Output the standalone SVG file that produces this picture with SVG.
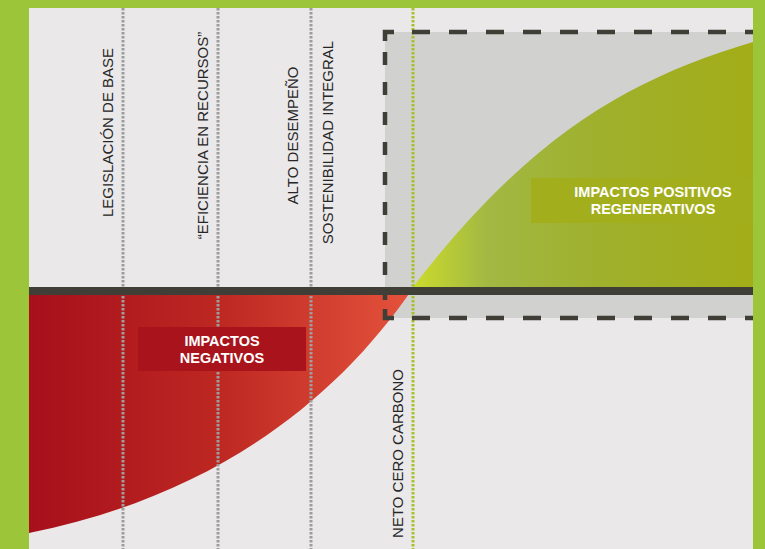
<svg xmlns="http://www.w3.org/2000/svg" width="765" height="549" viewBox="0 0 765 549">
<defs>
<linearGradient id="redGrad" gradientUnits="userSpaceOnUse" x1="29" y1="0" x2="413" y2="0">
<stop offset="0" stop-color="#a70f1b"/>
<stop offset="0.5" stop-color="#bd2822"/>
<stop offset="1" stop-color="#e5533c"/>
</linearGradient>
<linearGradient id="greenGrad" gradientUnits="userSpaceOnUse" x1="413" y1="0" x2="753" y2="0">
<stop offset="0" stop-color="#cbdb2c"/>
<stop offset="0.22" stop-color="#a2b843"/>
<stop offset="0.55" stop-color="#9fb02c"/>
<stop offset="1" stop-color="#a3ad18"/>
</linearGradient>
<style>
.vlab{font-family:"Liberation Sans",Arial,sans-serif;font-size:15px;fill:#262626;text-anchor:middle}
.blab{font-family:"Liberation Sans",Arial,sans-serif;font-size:14.5px;font-weight:bold;fill:#ffffff;text-anchor:middle}
.gdot{stroke:#9d9d9d;stroke-width:3;stroke-dasharray:2.4 1.6;fill:none}
.dash{stroke:#3f3f37;stroke-width:4.5;fill:none}
</style>
</defs>
<rect x="0" y="0" width="765" height="549" fill="#9dc539"/>
<rect x="29" y="8" width="724" height="541" fill="#eae8e9"/>
<g id="zone-regenerative">
<rect x="385" y="32" width="368" height="286" fill="#d1d1cf"/>
</g>
<g id="negative-impacts">
<path d="M29,295 H413 L413,288 C333,405 209,497 29,533 Z" fill="url(#redGrad)"/>
</g>
<g id="positive-impacts">
<path d="M413,287 C533,131 633,78 753,42 V287 Z" fill="url(#greenGrad)"/>
</g>
<g id="connectors">
<line class="gdot" x1="123" y1="8" x2="123" y2="549"/>
<line class="gdot" x1="218" y1="8" x2="218" y2="549"/>
<line class="gdot" x1="311" y1="8" x2="311" y2="549"/>
<line x1="413" y1="8" x2="413" y2="549" stroke="#a6c22e" stroke-width="3" stroke-dasharray="2.4 1.6"/>
<rect x="29" y="287" width="724" height="8" fill="#3f3f37"/>
<path class="dash" d="M385,41 V32 H394"/>
<path class="dash" d="M385,309 V318 H394"/>
<line class="dash" x1="412" y1="32" x2="753" y2="32" stroke-dasharray="18 19"/>
<line class="dash" x1="412" y1="318" x2="753" y2="318" stroke-dasharray="18 19"/>
<line class="dash" x1="385" y1="52" x2="385" y2="300" stroke-dasharray="13 17"/>
</g>
<g id="label-legislacion">
<text class="vlab" transform="translate(113,132.5) rotate(-90)">LEGISLACIÓN DE BASE</text>
</g>
<g id="label-eficiencia">
<text class="vlab" transform="translate(208,135.5) rotate(-90)">“EFICIENCIA EN RECURSOS”</text>
</g>
<g id="label-alto">
<text class="vlab" transform="translate(298,135.5) rotate(-90)">ALTO DESEMPEÑO</text>
</g>
<g id="label-sostenibilidad">
<text class="vlab" transform="translate(333,142.5) rotate(-90)">SOSTENIBILIDAD INTEGRAL</text>
</g>
<g id="label-neto">
<text class="vlab" transform="translate(403,453.5) rotate(-90)">NETO CERO CARBONO</text>
</g>
<g id="box-negativos">
<rect x="138" y="327" width="168" height="44" fill="#a9141c"/>
<text class="blab" x="222" y="346">IMPACTOS</text>
<text class="blab" x="222" y="363">NEGATIVOS</text>
</g>
<g id="box-positivos">
<rect x="531" y="178" width="222" height="45" fill="#a3ae1d"/>
<text class="blab" x="653" y="197">IMPACTOS POSITIVOS</text>
<text class="blab" x="653" y="214">REGENERATIVOS</text>
</g>
</svg>
